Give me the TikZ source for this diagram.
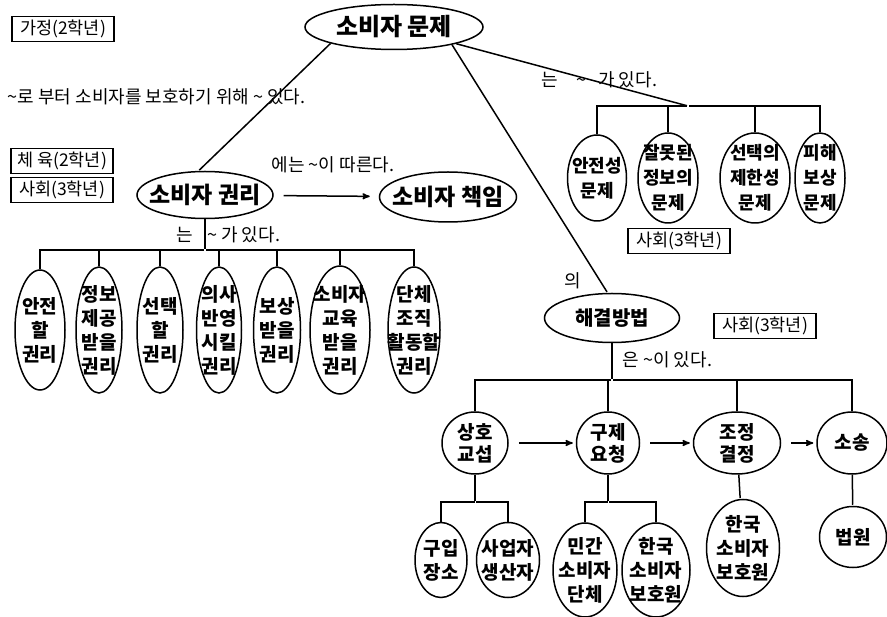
\documentclass[tikz,border=0pt]{standalone}
\usepackage{fontspec}
\setmainfont{Noto Sans CJK KR}
\usetikzlibrary{arrows,shapes}

\begin{document}
\begin{tikzpicture}[x=1pt,y=-1pt,line width=1.5pt,>=stealth',shorten >=1pt]
 \tikzstyle{oval}=[draw,ellipse,inner sep=-14pt,align=center,font=\bfseries\fontsize{19}{24}\selectfont]
 \tikzstyle{tag}=[draw,line width=1.2pt,inner sep=0pt,minimum width=102pt,minimum height=25pt,font=\fontsize{17.5}{20}\selectfont]
 \tikzstyle{note}=[inner sep=0pt,font=\fontsize{18}{20}\selectfont]

 \useasboundingbox (0,0) rectangle (887,617);

   \node[oval,minimum width=178pt,minimum height=45pt,font=\bfseries\fontsize{24}{28}\selectfont] (prob) at (394,27) {소비자 문제};
   \node[tag] (home) at (63,29) {가정(2학년)};
   \node[note,anchor=west] (why) at (7,97) {\textasciitilde 로 부터 소비자를 보호하기 위해 \textasciitilde{} 있다.};
   \node[tag] (pe) at (62,161) {체 육(2학년)};
   \node[tag] (soc1) at (62,190) {사회(3학년)};

   \node[oval,minimum width=136pt,minimum height=47pt,font=\bfseries\fontsize{23}{26}\selectfont] (right) at (205,195) {소비자 권리};
   \node[oval,minimum width=137pt,minimum height=50pt,font=\bfseries\fontsize{23}{26}\selectfont] (resp) at (448,197) {소비자 책임};
   \node[note] (follow) at (333,165) {에는 \textasciitilde 이 따른다.};
   \node[note,anchor=west] (rhave) at (176,235) {는\hspace{14pt}\textasciitilde{} 가 있다.};

   % rights
   \node[oval,minimum width=50pt,minimum height=120pt] (r1) at (40,330) {안전\\할\\권리};
   \node[oval,minimum width=46pt,minimum height=126pt,node distance=59pt] (r2) [right of=r1] {정보\\제공\\받을\\권리};
   \node[oval,minimum width=46pt,minimum height=126pt,node distance=61pt] (r3) [right of=r2] {선택\\할\\권리};
   \node[oval,minimum width=45pt,minimum height=126pt,node distance=59pt] (r4) [right of=r3] {의사\\반영\\시킬\\권리};
   \node[oval,minimum width=47pt,minimum height=126pt,node distance=58pt] (r5) [right of=r4] {보상\\받을\\권리};
   \node[oval,minimum width=60pt,minimum height=128pt,node distance=63pt] (r6) [right of=r5] {소비자\\교육\\받을\\권리};
   \node[oval,minimum width=52pt,minimum height=126pt,node distance=74pt] (r7) [right of=r6] {단체\\조직\\활동할\\권리};
   \coordinate (rbar) at (205,250);

   % problems
   \node[note,anchor=west] (phave) at (541,80) {는\hspace{18pt}\textasciitilde\hspace{12pt}가 있다.};
   \coordinate (pbar) at (688,106);
   \node[oval,minimum width=59pt,minimum height=86pt,font=\bfseries\fontsize{18}{25}\selectfont] (p1) at (597,178) {안전성\\문제};
   \node[oval,minimum width=60pt,minimum height=90pt,font=\bfseries\fontsize{18}{25}\selectfont,node distance=71pt] (p2) [right of=p1] {잘못된\\정보의\\문제};
   \node[oval,minimum width=70pt,minimum height=90pt,font=\bfseries\fontsize{18}{25}\selectfont,node distance=87pt] (p3) [right of=p2] {선택의\\제한성\\문제};
   \node[oval,minimum width=50pt,minimum height=90pt,font=\bfseries\fontsize{18}{25}\selectfont,node distance=65pt] (p4) [right of=p3] {피해\\보상\\문제};
   \node[tag] (soc2) at (679,241) {사회(3학년)};

   % solutions
   \node[note] (of) at (573,281) {의};
   \node[oval,minimum width=135pt,minimum height=49pt,font=\bfseries\fontsize{20}{24}\selectfont] (sol) at (612,318) {해결방법};
   \node[tag] (soc3) at (765,326) {사회(3학년)};
   \node[note,anchor=west] (shave) at (622,360) {은 \textasciitilde 이 있다.};
   \coordinate (sbar) at (612,380);

   \node[oval,minimum width=66pt,minimum height=62pt,font=\bfseries\fontsize{19}{22}\selectfont] (s1) at (475,443) {상호\\교섭};
   \node[oval,minimum width=63pt,minimum height=62pt,font=\bfseries\fontsize{19}{22}\selectfont,node distance=133pt] (s2) [right of=s1] {구제\\요청};
   \node[oval,minimum width=87pt,minimum height=62pt,font=\bfseries\fontsize{19}{22}\selectfont,node distance=129pt] (s3) [right of=s2] {조정\\결정};
   \node[oval,minimum width=70pt,minimum height=62pt,font=\bfseries\fontsize{19}{22}\selectfont,node distance=115pt] (s4) [right of=s3] {소송};

   \coordinate (abar) at (475,502);
   \coordinate (bbar) at (608,502);
   \node[oval,minimum width=52pt,minimum height=75pt] (t1) at (441,560) {구입\\장소};
   \node[oval,minimum width=63pt,minimum height=75pt] (t2) at (508,560) {사업자\\생산자};
   \node[oval,minimum width=64pt,minimum height=94pt] (t3) at (585,570) {민간\\소비자\\단체};
   \node[oval,minimum width=68pt,minimum height=94pt] (t4) at (656,570) {한국\\소비자\\보호원};
   \node[oval,minimum width=73pt,minimum height=97pt] (t5) at (743,548) {한국\\소비자\\보호원};
   \node[oval,minimum width=67pt,minimum height=61pt] (t6) at (853,537) {법원};

   \draw (prob.south west) -- (right.105);
   \draw (prob) -- (pbar);
   \draw (prob.-17) -- (sol.100);
   \draw[->,shorten <=10pt,shorten >=9pt] (right) -- (resp);
   \draw (right) -- (rbar);
   \foreach \i in {1,...,7} \draw (r\i) |- (rbar);
   \foreach \i in {1,...,4} \draw (p\i) |- (pbar);
   \draw (sol) -- (sbar);
   \foreach \i in {1,...,4} \draw (s\i) |- (sbar);
   \foreach \a/\b in {s1/s2,s2/s3,s3/s4}
     \draw[->,shorten <=10pt,shorten >=3pt] (\a) -- (\b);
   \draw (s1) -- (abar);
   \draw (t1) |- (abar) (t2) |- (abar);
   \draw (s2) -- (bbar);
   \draw (t3) |- (bbar) (t4) |- (bbar);
   \draw (s3) -- (t5);
   \draw (s4) -- (t6);
\end{tikzpicture}
\end{document}
